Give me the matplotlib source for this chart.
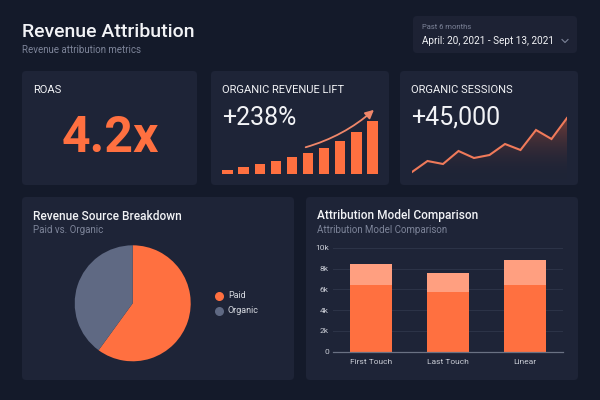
import numpy as np
import matplotlib
matplotlib.use("Agg")
import matplotlib.pyplot as plt
from matplotlib.patches import FancyBboxPatch, Polygon

plt.rcParams['font.family'] = ['Roboto', 'DejaVu Sans']

# data
lift_bars = [4.5, 7, 10, 13, 17, 21, 26, 33, 42, 53]
sessions = [8, 19, 16, 29, 22, 25, 36, 30, 50, 41, 62]
pie_labels = ['Paid', 'Organic']
pie_values = [60, 40]
models = ['First Touch', 'Last Touch', 'Linear']
model_base = [6450, 5750, 6450]
model_extra = [1950, 1850, 2350]
y_ticks = [0, 2000, 4000, 6000, 8000, 10000]
y_tick_labels = ['0', '2k', '4k', '6k', '8k', '10k']

BG = '#141a2a'
CARD = '#1e2437'
ORANGE = '#ff7040'
ORANGE_LIGHT = '#ff9f80'
SLATE = '#5f6983'
MUTED = '#7d8499'
WHITE = '#f2f3f6'

W, H = 600, 400


def px(x0, y0, x1, y1):
    # pixel box (top-left origin) -> figure fraction rect
    return [x0 / W, 1 - y1 / H, (x1 - x0) / W, (y1 - y0) / H]


fig = plt.figure(figsize=(6, 4), dpi=100, facecolor=BG)

# background layer in pixel coordinates
bg = fig.add_axes([0, 0, 1, 1])
bg.set_xlim(0, W)
bg.set_ylim(H, 0)
bg.axis('off')


def card(x0, y0, x1, y1, color=CARD, r=4):
    bg.add_patch(FancyBboxPatch((x0 + r, y0 + r), x1 - x0 - 2 * r, y1 - y0 - 2 * r,
                                boxstyle=f"round,pad={r}", fc=color, ec='none'))


# header
bg.text(22, 32, 'Revenue Attribution', color=WHITE, fontsize=14, fontweight='medium', va='center')
bg.text(22, 50, 'Revenue attribution metrics', color=MUTED, fontsize=7, va='center')

card(413, 16, 577, 53, color='#1d2234')
bg.text(422, 27, 'Past 6 months', color=MUTED, fontsize=5.5, va='center')
bg.text(422, 41, 'April: 20, 2021 - Sept 13, 2021', color=WHITE, fontsize=7.2, va='center')
bg.plot([562, 565, 568], [39.5, 42.5, 39.5], color=MUTED, lw=0.8)

# KPI cards
card(22, 71, 197, 185)
card(211, 71, 389, 185)
card(400, 71, 578, 185)

bg.text(33, 90, 'ROAS', color=WHITE, fontsize=8, va='center')
bg.text(110, 138, '4.2x', color=ORANGE, fontsize=36, fontweight='bold', ha='center', va='center')

bg.text(222, 90, 'ORGANIC REVENUE LIFT', color=WHITE, fontsize=8, va='center')
bg.text(222, 118, '+238%', color=WHITE, fontsize=18, va='center')

bg.text(411, 90, 'ORGANIC SESSIONS', color=WHITE, fontsize=8, va='center')
bg.text(411, 118, '+45,000', color=WHITE, fontsize=18, va='center')

bg.annotate('', xy=(376, 108), xytext=(303, 148),
            arrowprops=dict(arrowstyle='-|>,head_length=0.5,head_width=0.25', color='#f0876a',
                            lw=1.3, connectionstyle='arc3,rad=0.12'))

# bottom cards
card(22, 197, 294, 380)
card(306, 197, 578, 380)
bg.text(33, 216, 'Revenue Source Breakdown', color=WHITE, fontsize=8.6, fontweight='medium', va='center')
bg.text(33, 230, 'Paid vs. Organic', color=MUTED, fontsize=7, va='center')
bg.text(317, 216, 'Attribution Model Comparison', color=WHITE, fontsize=8.6, fontweight='medium', va='center')
bg.text(317, 230, 'Attribution Model Comparison', color=MUTED, fontsize=7, va='center')

# revenue lift mini bars
ax_lift = fig.add_axes(px(219.5, 120, 380.5, 174))
ax_lift.bar(range(len(lift_bars)), lift_bars, width=0.64, color=ORANGE)
ax_lift.set_xlim(-0.5, len(lift_bars) - 0.5)
ax_lift.set_ylim(0, 54)
ax_lift.axis('off')

# sessions sparkline with fading fill
ax_ses = fig.add_axes(px(412, 110, 567, 180))
xs = np.arange(len(sessions))
ax_ses.set_xlim(0, len(sessions) - 1)
ax_ses.set_ylim(0, 70)
ax_ses.axis('off')
grad = np.linspace(0, 1, 100).reshape(-1, 1)
img = ax_ses.imshow(grad, extent=[0, len(sessions) - 1, 0, 70], origin='lower',
                    cmap=matplotlib.colors.LinearSegmentedColormap.from_list(
                        'fade', [(0.12, 0.14, 0.21, 0.0), (0.6, 0.28, 0.22, 0.9)]),
                    aspect='auto', zorder=1)
poly = Polygon(np.column_stack([np.r_[xs, xs[-1], xs[0]], np.r_[sessions, 0, 0]]),
               closed=True, transform=ax_ses.transData, fc='none', ec='none')
ax_ses.add_patch(poly)
img.set_clip_path(poly)
ax_ses.plot(xs, sessions, color='#f07a5a', lw=1.5, zorder=2, solid_joinstyle='miter')

# pie
ax_pie = fig.add_axes(px(74.7, 245.3, 190.7, 361.3))
ax_pie.pie(pie_values, colors=[ORANGE, SLATE], startangle=90, counterclock=False,
           radius=1, wedgeprops=dict(linewidth=0))
ax_pie.set_xlim(-1, 1)
ax_pie.set_ylim(-1, 1)
ax_pie.set_aspect('equal')
for i, (lab, col) in enumerate(zip(pie_labels, [ORANGE, SLATE])):
    y = 296 + i * 14.5
    bg.scatter([219], [y], s=30, color=col, zorder=5)
    bg.text(228, y, lab, color='#d6d9e0', fontsize=6.5, va='center')

# attribution stacked bars
ax_bar = fig.add_axes(px(333, 247.7, 563, 351.7))
ax_bar.set_facecolor('none')
pos = np.arange(len(models))
ax_bar.bar(pos, model_base, width=0.55, color=ORANGE, zorder=3)
ax_bar.bar(pos, model_extra, bottom=model_base, width=0.55, color=ORANGE_LIGHT, zorder=3)
ax_bar.set_xlim(-0.5, len(models) - 0.5)
ax_bar.set_ylim(0, 10000)
ax_bar.set_yticks(y_ticks)
ax_bar.set_yticklabels(y_tick_labels)
ax_bar.set_xticks(pos)
ax_bar.set_xticklabels(models)
ax_bar.grid(axis='y', color='#2d3448', lw=0.7, zorder=0)
for s in ['top', 'right', 'left']:
    ax_bar.spines[s].set_visible(False)
ax_bar.spines['bottom'].set_color('#6a7183')
ax_bar.spines['bottom'].set_linewidth(0.9)
ax_bar.spines['bottom'].set_zorder(4)
ax_bar.tick_params(axis='both', length=0, colors='#c9ccd5', labelsize=6)
ax_bar.tick_params(axis='y', pad=3)
ax_bar.tick_params(axis='x', pad=5)

fig.savefig('out.png', dpi=100, facecolor=BG)
